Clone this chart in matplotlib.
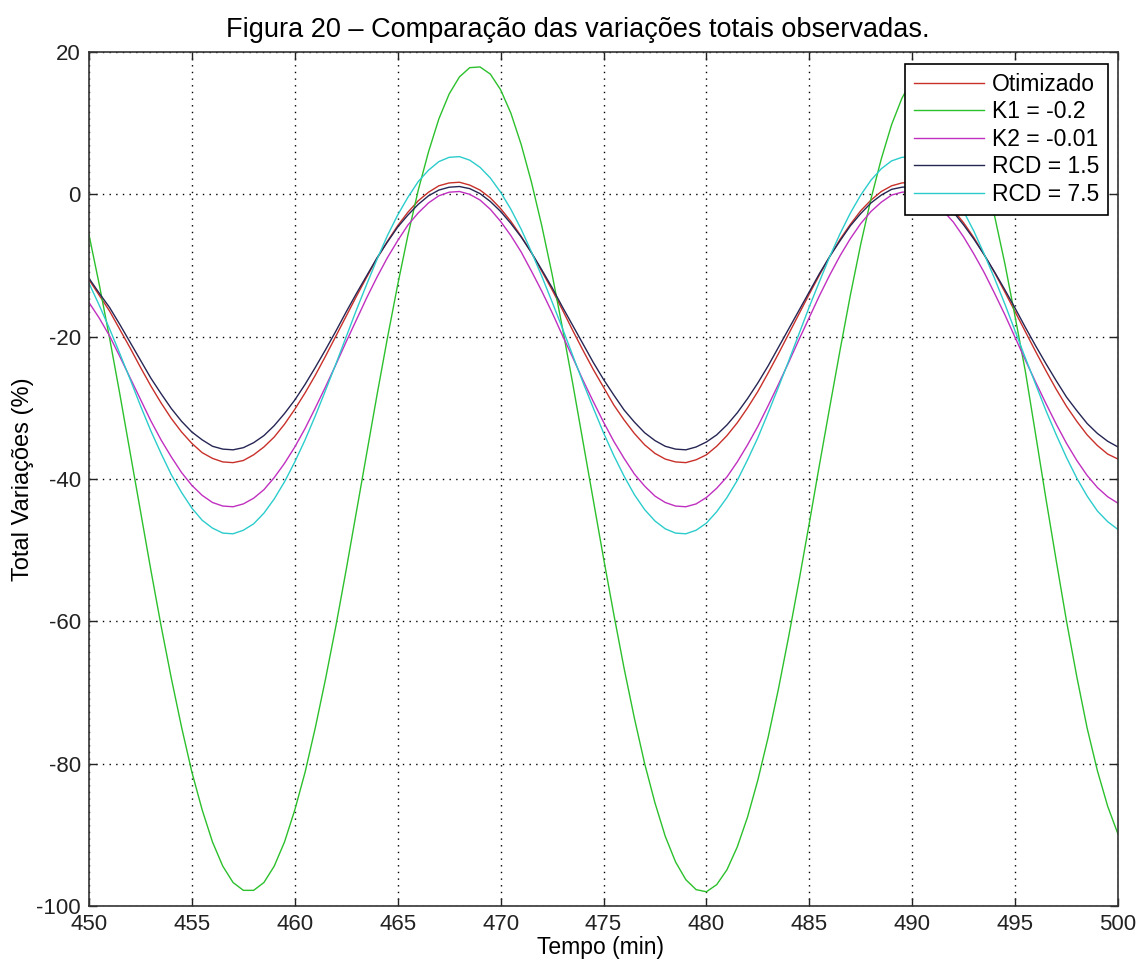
import numpy as np
import matplotlib
matplotlib.use('Agg')
import matplotlib.pyplot as plt

plt.rcParams['font.family'] = ['Liberation Sans', 'DejaVu Sans']
plt.rcParams['axes.unicode_minus'] = False

# tempo (min), leitura a cada 0.5 min
tempo = np.arange(450, 500.5, 0.5)

otimizado = [-12.0, -14.2, -16.4, -19.0, -21.6, -24.3, -26.9, -29.3, -31.5, -33.4,
             -35.0, -36.3, -37.1, -37.6, -37.7, -37.4, -36.6, -35.5, -34.1, -32.3,
             -30.2, -27.9, -25.4, -22.7, -19.9, -17.1, -14.3, -11.6, -9.0, -6.6,
             -4.4, -2.5, -0.9, 0.3, 1.2, 1.6, 1.7, 1.3, 0.6, -0.5,
             -2.0, -3.8, -5.9, -8.2, -10.8, -13.4, -16.2, -19.1, -21.9, -24.6,
             -27.1, -29.6, -31.7, -33.6, -35.2, -36.4, -37.2, -37.6, -37.7, -37.3,
             -36.6, -35.4, -33.9, -32.1, -30.0, -27.7, -25.1, -22.4, -19.6, -16.8,
             -14.0, -11.3, -8.7, -6.3, -4.2, -2.3, -0.8, 0.4, 1.2, 1.6,
             1.7, 1.3, 0.5, -0.7, -2.2, -4.0, -6.1, -8.5, -11.0, -13.7,
             -16.5, -19.3, -22.1, -24.8, -27.4, -29.8, -31.9, -33.8, -35.3, -36.5,
             -37.2]

k1 = [-5.7, -12.7, -20.2, -28.1, -36.3, -44.5, -52.7, -60.6, -68.0, -74.9,
      -81.2, -86.5, -91.0, -94.4, -96.7, -97.8, -97.8, -96.7, -94.4, -91.0,
      -86.5, -81.2, -74.9, -68.0, -60.6, -52.7, -44.5, -36.3, -28.1, -20.2,
      -12.7, -5.7, 0.6, 6.0, 10.6, 14.1, 16.5, 17.8, 17.9, 16.9,
      14.7, 11.4, 7.0, 1.7, -4.4, -11.2, -18.7, -26.5, -34.7, -42.9,
      -51.1, -59.0, -66.6, -73.6, -80.0, -85.5, -90.2, -93.8, -96.3, -97.7,
      -98.0, -97.0, -94.9, -91.7, -87.5, -82.3, -76.3, -69.5, -62.1, -54.3,
      -46.2, -37.9, -29.8, -21.8, -14.1, -7.0, -0.6, 5.0, 9.8, 13.5,
      16.1, 17.6, 18.0, 17.2, 15.3, 12.2, 8.1, 3.0, -3.0, -9.7,
      -17.2, -24.9, -33.8, -42.8, -51.5, -60.0, -67.8, -75.0, -81.0, -86.0,
      -89.9]

k2 = [-15.2, -17.4, -19.9, -22.8, -25.8, -28.8, -31.8, -34.5, -36.9, -39.1,
      -40.9, -42.3, -43.3, -43.8, -43.9, -43.5, -42.7, -41.5, -39.8, -37.8,
      -35.5, -32.9, -30.0, -27.0, -23.9, -20.7, -17.6, -14.5, -11.6, -8.9,
      -6.5, -4.3, -2.6, -1.2, -0.2, 0.3, 0.4, 0.0, -0.8, -2.1,
      -3.8, -5.8, -8.1, -10.8, -13.6, -16.6, -19.8, -22.9, -26.1, -29.1,
      -32.0, -34.7, -37.1, -39.3, -41.0, -42.4, -43.3, -43.8, -43.9, -43.5,
      -42.6, -41.3, -39.7, -37.6, -35.2, -32.6, -29.7, -26.7, -23.6, -20.4,
      -17.3, -14.2, -11.3, -8.6, -6.2, -4.1, -2.4, -1.1, -0.1, 0.3,
      0.4, -0.1, -0.9, -2.3, -3.9, -6.0, -8.4, -11.0, -13.9, -16.9,
      -20.1, -23.3, -26.4, -29.4, -32.3, -35.0, -37.4, -39.5, -41.2, -42.5,
      -43.4]

rcd_15 = [-11.8, -13.9, -15.9, -18.3, -20.8, -23.3, -25.8, -28.0, -30.1, -31.9,
          -33.4, -34.5, -35.4, -35.8, -35.9, -35.6, -34.9, -33.9, -32.5, -30.8,
          -28.9, -26.7, -24.3, -21.8, -19.2, -16.5, -13.9, -11.4, -8.9, -6.7,
          -4.6, -2.9, -1.4, -0.2, 0.6, 1.0, 1.1, 0.8, 0.1, -1.0,
          -2.4, -4.1, -6.0, -8.2, -10.6, -13.1, -15.8, -18.4, -21.0, -23.6,
          -26.0, -28.2, -30.3, -32.0, -33.5, -34.6, -35.4, -35.8, -35.9, -35.5,
          -34.8, -33.8, -32.4, -30.7, -28.7, -26.5, -24.1, -21.5, -18.9, -16.3,
          -13.7, -11.1, -8.7, -6.5, -4.4, -2.7, -1.2, -0.1, 0.7, 1.0,
          1.1, 0.7, 0.0, -1.1, -2.5, -4.3, -6.3, -8.5, -10.9, -13.4,
          -16.0, -18.7, -21.3, -23.8, -26.2, -28.5, -30.4, -32.2, -33.6, -34.7,
          -35.5]

rcd_75 = [-12.5, -15.6, -18.9, -22.4, -26.0, -29.7, -33.2, -36.4, -39.4, -41.9,
          -44.1, -45.8, -46.9, -47.6, -47.7, -47.2, -46.3, -44.8, -42.8, -40.4,
          -37.6, -34.5, -31.1, -27.5, -23.8, -20.0, -16.2, -12.6, -9.1, -5.8,
          -2.9, -0.4, 1.8, 3.4, 4.6, 5.2, 5.3, 4.8, 3.8, 2.3,
          0.3, -2.1, -4.9, -8.1, -11.5, -15.1, -18.8, -22.6, -26.4, -30.0,
          -33.5, -36.7, -39.6, -42.2, -44.3, -45.9, -47.0, -47.6, -47.7, -47.2,
          -46.2, -44.6, -42.6, -40.2, -37.3, -34.2, -30.7, -27.1, -23.4, -19.6,
          -15.8, -12.2, -8.7, -5.5, -2.6, -0.1, 2.0, 3.6, 4.7, 5.2,
          5.3, 4.7, 3.7, 2.1, 0.1, -2.4, -5.2, -8.4, -11.8, -15.4,
          -19.2, -23.0, -26.7, -30.4, -33.8, -37.0, -39.9, -42.4, -44.5, -46.0,
          -47.1]

fig = plt.figure(figsize=(11.37, 9.59), dpi=100)
ax = fig.add_axes([89/1137, 1 - 906/959, (1118 - 89)/1137, (906 - 52)/959])

lw = 1.0
ax.plot(tempo, otimizado, color='#c8302a', lw=lw, label='Otimizado')
ax.plot(tempo, k1, color='#2cc02c', lw=lw, label='K1 = -0.2')
ax.plot(tempo, k2, color='#c030c0', lw=lw, label='K2 = -0.01')
ax.plot(tempo, rcd_15, color='#262655', lw=lw, label='RCD = 1.5')
ax.plot(tempo, rcd_75, color='#2ccccc', lw=lw, label='RCD = 7.5')

ax.set_xlim(450, 500)
ax.set_ylim(-100, 20)
ax.set_xticks(np.arange(450, 501, 5))
ax.set_yticks(np.arange(-100, 21, 20))
ax.grid(True, color='black', linestyle=(0, (1, 3.8)), linewidth=1.0)
ax.tick_params(direction='in', length=6, width=1, top=True, right=True,
               labelsize=16, pad=6, colors='#222222')
for s in ax.spines.values():
    s.set_linewidth(1.2)
    s.set_color('#333333')

ax.set_xlabel('Tempo (min)', fontsize=16.5)
ax.xaxis.set_label_coords(0.4966, -0.035)
ax.set_ylabel('Total Variações (%)', fontsize=17)
ax.yaxis.set_label_coords(-0.053, 0.5)

leg = ax.legend(loc='upper right', bbox_to_anchor=(0.9903, 0.9859), borderaxespad=0,
                fontsize=16.5, fancybox=False, framealpha=1, edgecolor='black',
                handlelength=3.05, handletextpad=0.35, labelspacing=0.2, borderpad=0.38)
leg.get_frame().set_linewidth(1.2)

fig.text(0.508, 1 - 37/959, 'Figura 20 – Comparação das variações totais observadas.',
         ha='center', va='baseline', fontsize=19.5)

fig.savefig('out.png', dpi=100)
